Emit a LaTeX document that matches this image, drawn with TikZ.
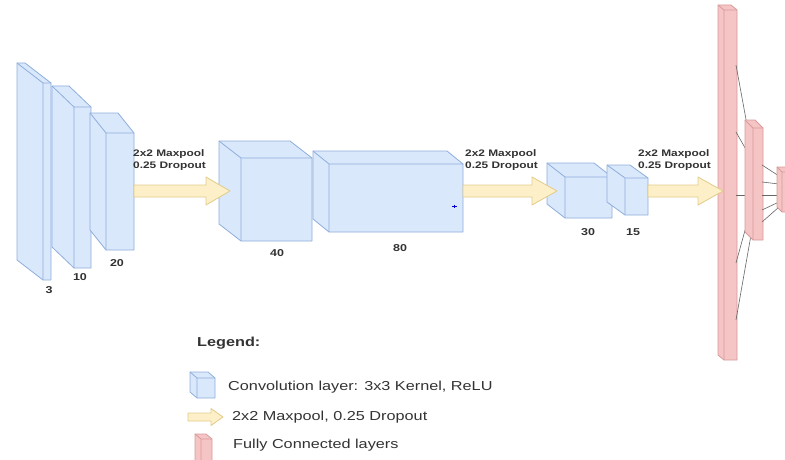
\documentclass[tikz,border=0pt]{standalone}
\usepackage{fontspec}
\setmainfont{Liberation Sans}
\newfontfamily\lblfont[FakeStretch=1.25]{Liberation Sans}
\usetikzlibrary{calc}
\definecolor{cubefill}{HTML}{DAE8FC}
\definecolor{cubeline}{HTML}{8EAEDB}
\definecolor{arrfill}{HTML}{FDEFC8}
\definecolor{arrline}{HTML}{E3CC8A}
\definecolor{fcfill}{HTML}{F5C4C4}
\definecolor{fcline}{HTML}{D99C9C}
\definecolor{txt}{HTML}{333333}
\newcommand\cubeshape[7]{%
  \draw[#1] (#2,#3) -- (#4-#6,#3) -- (#4,#3+#7) -- (#4,#5) -- (#2+#6,#5) -- (#2,#5-#7) -- cycle;
  \draw[#1,fill=none] (#2,#3) -- (#2+#6,#3+#7) -- (#4,#3+#7) (#2+#6,#3+#7) -- (#2+#6,#5);}
\newcommand\fatarr[5]{%
  \draw[arrowbox] let \p1=(#1), \p2=(#2) in
   (\x1,\y1+#3) -- (\x2-#5,\y1+#3) -- (\x2-#5,\y1+#4) -- (\x2,\y1) --
   (\x2-#5,\y1-#4) -- (\x2-#5,\y1-#3) -- (\x1,\y1-#3) -- cycle;}
\tikzset{
  convbox/.style={fill=cubefill,draw=cubeline,line width=0.8pt,line join=round},
  fcbox/.style={fill=fcfill,draw=fcline,line width=0.8pt,line join=round},
  arrowbox/.style={fill=arrfill,draw=arrline,line width=0.8pt,line join=round},
  fcline/.style={draw=black!60,line width=0.6pt},
  dimlbl/.style={text=txt,inner sep=0pt,font=\lblfont\bfseries\fontsize{10}{12}\selectfont},
  poollbl/.style={text=txt,inner sep=0pt,anchor=west,align=left,font=\lblfont\bfseries\fontsize{9.5}{12}\selectfont},
  legtxt/.style={text=txt,inner sep=0pt,anchor=west,font=\lblfont\fontsize{13}{15}\selectfont},
}
\begin{document}
\begin{tikzpicture}[x=1pt,y=-1pt]
\useasboundingbox (0,0) rectangle (785,460);
\fill[white] (0,0) rectangle (785,460);
\clip (0,0) rectangle (785,460);
% convolution cuboids
\cubeshape{convbox}{17}{63}{51}{280}{26}{20}
\cubeshape{convbox}{52}{86}{91}{268}{22}{21}
\cubeshape{convbox}{90}{113}{134}{250}{16}{20}
\cubeshape{convbox}{219}{141}{312}{241}{22}{17}
\cubeshape{convbox}{313}{151}{463}{232}{16}{13}
\cubeshape{convbox}{547}{163}{612}{218}{18}{14}
\cubeshape{convbox}{607}{165}{648}{215}{18}{13}
% stray mark
\draw[blue!80!black,line width=0.7pt] (452,206) -- (457,206) (454.5,204.5) -- (454.5,207.5);
% fully connected layers
\cubeshape{fcbox}{718}{5}{737}{360}{6}{5}
\coordinate (big1) at (736,65);
\coordinate (big2) at (736,132);
\coordinate (big3) at (736,195);
\coordinate (big4) at (736,263);
\coordinate (big5) at (736,320);
\coordinate (mid1) at (752,152);
\coordinate (mid2) at (752,160);
\coordinate (mid3) at (752,195);
\coordinate (mid4) at (752,205);
\coordinate (mid5) at (754,218);
\foreach \i in {1,...,5}{\draw[fcline] (big\i) -- (mid\i);}
\cubeshape{fcbox}{745}{120}{763}{240}{8}{8}
\coordinate (mo1) at (762,165);
\coordinate (mo2) at (762,182);
\coordinate (mo3) at (762,195);
\coordinate (mo4) at (762,210);
\coordinate (mo5) at (762,222);
\coordinate (sm1) at (779,176);
\coordinate (sm2) at (779,184);
\coordinate (sm3) at (779,195);
\coordinate (sm4) at (779,202);
\coordinate (sm5) at (779,207);
\foreach \i in {1,...,5}{\draw[fcline] (mo\i) -- (sm\i);}
\cubeshape{fcbox}{777}{167}{793}{212}{5}{5}
% arrows
\coordinate (a1s) at (134,191);
\coordinate (a1e) at (230,191);
\coordinate (a2s) at (463,191);
\coordinate (a2e) at (557,191);
\coordinate (a3s) at (648,191);
\coordinate (a3e) at (723,191);
\fatarr{a1s}{a1e}{6pt}{14pt}{24pt}
\fatarr{a2s}{a2e}{6pt}{14pt}{25pt}
\fatarr{a3s}{a3e}{6pt}{14pt}{25pt}
% labels
\node[poollbl] (p1) at (133,160) {2x2 Maxpool\\0.25 Dropout};
\node[poollbl] (p2) at (465,160) {2x2 Maxpool\\0.25 Dropout};
\node[poollbl] (p3) at (638,160) {2x2 Maxpool\\0.25 Dropout};
\node[dimlbl] (l3) at (49,290) {3};
\node[dimlbl] (l10) at (80,277) {10};
\node[dimlbl] (l20) at (117,263) {20};
\node[dimlbl] (l40) at (277,253) {40};
\node[dimlbl] (l80) at (400,248) {80};
\node[dimlbl] (l30) at (588,232) {30};
\node[dimlbl] (l15) at (633,232) {15};
% legend
\node[legtxt,font=\lblfont\bfseries\fontsize{13}{15}\selectfont] (leg) at (197,343) {Legend:};
\cubeshape{convbox}{190}{372}{215}{398}{7}{6}
\node[legtxt] (lt1) at (228,387) {Convolution layer: 3x3 Kernel, ReLU};
\coordinate (la1) at (188,417);
\coordinate (la2) at (223,417);
\fatarr{la1}{la2}{4pt}{8.5pt}{12pt}
\node[legtxt] (lt2) at (232,417) {2x2 Maxpool, 0.25 Dropout};
\cubeshape{fcbox}{195}{434}{212}{470}{6}{5}
\node[legtxt] (lt3) at (233,445) {Fully Connected layers};
\end{tikzpicture}
\end{document}
